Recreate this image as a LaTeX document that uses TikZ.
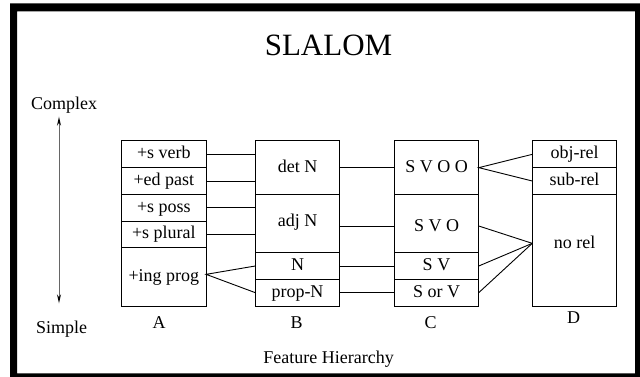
\documentclass[tikz,border=0pt]{standalone}
\usepackage{fontspec}
\setmainfont{Liberation Serif}
\usetikzlibrary{arrows.meta}
\tikzset{
  cell/.style={draw=black, line width=1pt, inner sep=0pt, outer sep=0pt,
    minimum width=84.5pt, text height=11pt, text depth=2pt,
    font=\fontsize{18}{20}\selectfont},
  lbl/.style={inner sep=0pt, anchor=base, font=\fontsize{18}{20}\selectfont},
  conn/.style={draw=black, line width=0.9pt},
  axtip/.tip={Stealth[color=black,length=9pt,width=4pt]},
}
\begin{document}
\begin{tikzpicture}[x=1pt,y=-1pt]
\useasboundingbox (0,0) rectangle (640,377);
% frame
\fill[black, even odd rule] (10,3.3) rectangle (650,390) (17,11.5) rectangle (635,373.3);
% title
\node[lbl, font=\fontsize{31}{34}\selectfont] (title) at (328.5,56) {SLALOM};
% complexity axis
\node[lbl] (complex) at (64.2,110) {Complex};
\node[lbl] (simple) at (61.6,333.3) {Simple};
\coordinate (axtop) at (59,116.7);
\coordinate (axbot) at (59,303.3);
\draw[draw=black!60, line width=1pt, axtip-axtip] (axtop) -- (axbot);
% column A
\node[cell, minimum height=26.7pt] (a1) at (163.85,154.35) {+s verb};
\node[cell, minimum height=26.6pt] (a2) at (163.85,181) {+ed past};
\node[cell, minimum height=26.7pt] (a3) at (163.85,207.65) {+s poss};
\node[cell, minimum height=26.7pt] (a4) at (163.85,234.35) {+s plural};
\node[cell, minimum height=58.3pt] (a5) at (163.85,276.85) {+ing prog};
% column B
\node[cell, minimum height=53.3pt] (b1) at (297.5,167.65) {det N};
\node[cell, minimum height=58.4pt, text depth=5pt] (b2) at (297.5,223.5) {adj N};
\node[cell, minimum height=26.6pt] (b3) at (297.5,266) {N};
\node[cell, minimum height=26.7pt] (b4) at (297.5,292.65) {prop-N};
% column C
\node[cell, minimum height=53.3pt] (c1) at (436.5,167.65) {S V O O};
\node[cell, minimum height=58.4pt, text depth=0pt, text height=15pt] (c2) at (436.5,223.5) {S V O};
\node[cell, minimum height=26.6pt] (c3) at (436.5,266) {S V};
\node[cell, minimum height=26.7pt] (c4) at (436.5,292.65) {S or V};
% column D
\node[cell, minimum height=26.7pt] (d1) at (574.5,154.35) {obj-rel};
\node[cell, minimum height=26.6pt] (d2) at (574.5,181) {sub-rel};
\node[cell, minimum height=111.7pt, text depth=14.4pt] (d3) at (574.5,250.15) {no rel};
% column letters
\node[lbl] (la) at (159.2,328.3) {A};
\node[lbl] (lb) at (296.7,328.3) {B};
\node[lbl] (lc) at (430.6,328.3) {C};
\node[lbl] (ld) at (573.5,323.3) {D};
\node[lbl] (fh) at (328.6,363.3) {Feature Hierarchy};
% connectors A-B
\draw[conn] (a1.east) -- (a1.east -| b1.west);
\draw[conn] (a2.east) -- (a2.east -| b1.west);
\draw[conn] (a3.east) -- (a3.east -| b2.west);
\draw[conn] (a4.east) -- (a4.east -| b2.west);
\coordinate (ing) at ([yshift=2.5pt]a5.east);
\draw[conn] (b3.west) -- (ing) -- (b4.west);
% connectors B-C
\draw[conn] (b1.east) -- (c1.west);
\draw[conn] ([yshift=-2.5pt]b2.east) -- ([yshift=-2.5pt]c2.west);
\draw[conn] (b3.east) -- (c3.west);
\draw[conn] (b4.east) -- (c4.west);
% connectors C-D
\draw[conn] (d1.west) -- (c1.east) -- (d2.west);
\coordinate (nr) at ([yshift=6.8pt]d3.west);
\draw[conn] ([yshift=-2.5pt]c2.east) -- (nr);
\draw[conn] (c3.east) -- (nr);
\draw[conn] (c4.east) -- (nr);
\end{tikzpicture}
\end{document}
